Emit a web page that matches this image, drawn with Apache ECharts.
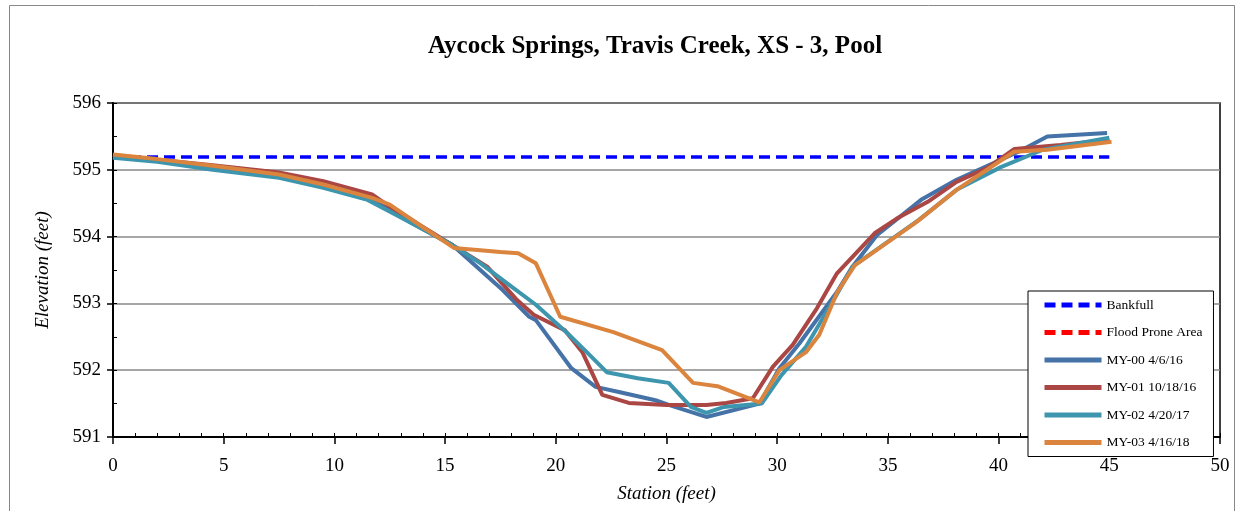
<!DOCTYPE html>
<html>
<head>
<meta charset="utf-8">
<script src="https://cdn.jsdelivr.net/npm/echarts@6/dist/echarts.min.js"></script>
<style>
html,body{margin:0;padding:0;background:#fff;}
#chart{width:1243px;height:511px;}
</style>
</head>
<body>
<div id="chart"></div>
<script>
// ---- data ----
const chartTitle = 'Aycock Springs, Travis Creek, XS - 3, Pool';
const xAxisName = 'Station (feet)';
const yAxisName = 'Elevation (feet)';
const seriesNames = ['Bankfull', 'Flood Prone Area', 'MY-00 4/6/16', 'MY-01 10/18/16', 'MY-02 4/20/17', 'MY-03 4/16/18'];

const bankfullStation = [0, 45];
const bankfullElev = [595.19, 595.19];

const floodStation = [];
const floodElev = [];

const my00Station = [0, 2, 4.5, 7.5, 9.5, 11.8, 13.5, 15.3, 17.6, 18.8, 19.1, 20.7, 21.8, 22.9, 24.5, 25.1, 26.8, 29.2, 30.1, 31.0, 32.7, 33.4, 34.5, 36.5, 38.1, 40.9, 42.2, 44.9];
const my00Elev = [595.19, 595.13, 595.03, 594.9, 594.74, 594.53, 594.2, 593.88, 593.2, 592.8, 592.75, 592.03, 591.75, 591.67, 591.55, 591.48, 591.3, 591.5, 592.03, 592.4, 593.17, 593.55, 594.02, 594.55, 594.85, 595.27, 595.5, 595.55];

const my01Station = [0, 2, 4.5, 7.5, 9.5, 11.7, 12.5, 15.3, 16.9, 18.25, 19.0, 20.4, 21.2, 22.1, 23.3, 25.0, 26.8, 27.7, 28.9, 29.8, 30.7, 31.8, 32.7, 34.4, 35.4, 36.8, 38.1, 39.5, 40.7, 42.8, 45];
const my01Elev = [595.22, 595.15, 595.07, 594.96, 594.83, 594.63, 594.45, 593.88, 593.55, 593.05, 592.83, 592.6, 592.27, 591.63, 591.51, 591.48, 591.48, 591.51, 591.58, 592.05, 592.38, 592.93, 593.45, 594.05, 594.27, 594.52, 594.82, 595.03, 595.31, 595.37, 595.45];

const my02Station = [0, 2, 4.5, 7.5, 9.5, 11.5, 13.5, 15.3, 16.6, 18.0, 19.1, 20.5, 21.4, 22.3, 23.7, 25.1, 26.1, 26.8, 27.6, 29.3, 30.2, 31.3, 32.6, 33.4, 36.4, 38.1, 40.1, 42.0, 45];
const my02Elev = [595.18, 595.12, 595.0, 594.88, 594.73, 594.55, 594.2, 593.88, 593.6, 593.25, 592.98, 592.56, 592.27, 591.97, 591.88, 591.81, 591.45, 591.36, 591.45, 591.5, 591.93, 592.35, 593.08, 593.55, 594.25, 594.7, 595.04, 595.3, 595.48];

const my03Station = [0, 2, 4.5, 7.5, 9.5, 11.7, 12.5, 14.0, 15.4, 17.5, 18.3, 19.1, 20.2, 22.6, 24.8, 26.2, 27.3, 29.2, 30.1, 31.3, 31.9, 32.7, 33.5, 36.3, 38.1, 40.7, 42.2, 45.1];
const my03Elev = [595.23, 595.16, 595.06, 594.93, 594.78, 594.58, 594.48, 594.14, 593.83, 593.77, 593.75, 593.6, 592.8, 592.57, 592.3, 591.81, 591.76, 591.52, 592.0, 592.27, 592.53, 593.16, 593.57, 594.22, 594.7, 595.27, 595.3, 595.42];

const xTicks = [0, 5, 10, 15, 20, 25, 30, 35, 40, 45, 50];
const yTicks = [591, 592, 593, 594, 595, 596];

// ---- build ----
function zip(xs, ys) { return xs.map((x, i) => [x, ys[i]]); }
const serif = 'Liberation Serif';
const colors = ['#0000FF', '#FF0000', '#4572A7', '#AA4643', '#3D96AE', '#DB843D'];
const stations = [bankfullStation, floodStation, my00Station, my01Station, my02Station, my03Station];
const elevs = [bankfullElev, floodElev, my00Elev, my01Elev, my02Elev, my03Elev];

const series = seriesNames.map((name, i) => ({
  name: name,
  type: 'line',
  xAxisIndex: 0,
  yAxisIndex: 0,
  data: zip(stations[i], elevs[i]),
  symbol: 'none',
  color: colors[i],
  lineStyle: {
    color: colors[i],
    width: i < 2 ? 3.5 : 4,
    type: i < 2 ? [11, 6] : 'solid'
  },
  emphasis: { disabled: true }
}));

const chart = echarts.init(document.getElementById('chart'), null, { renderer: 'canvas' });
chart.setOption({
  animation: false,
  backgroundColor: '#fff',
  color: colors,
  title: {
    text: chartTitle,
    left: 650,
    top: 29,
    textAlign: 'center',
    textStyle: { fontFamily: serif, fontWeight: 'bold', fontSize: 25, color: '#000' }
  },
  graphic: [{
    type: 'rect',
    shape: { x: 9.5, y: 5.5, width: 1225, height: 600 },
    style: { fill: 'none', stroke: '#888', lineWidth: 1 },
    silent: true, z: -10
  }],
  legend: {
    orient: 'vertical',
    left: 1028,
    top: 291,
    padding: [7, 11, 7, 14],
    itemWidth: 57,
    itemHeight: 14,
    itemGap: 13.5,
    backgroundColor: '#fff',
    borderColor: '#000',
    borderWidth: 1,
    itemStyle: { opacity: 0, borderWidth: 0 },
    lineStyle: { width: 5 },
    textStyle: { fontFamily: serif, fontSize: 13.5, color: '#000' },
    data: seriesNames,
    selectedMode: false
  },
  grid: {
    left: 113, right: 23, top: 103, bottom: 74,
    show: true, borderColor: '#000', borderWidth: 1.5, backgroundColor: 'transparent'
  },
  xAxis: [{
    type: 'value', min: xTicks[0], max: xTicks[xTicks.length - 1], interval: 5,
    position: 'bottom',
    name: xAxisName, nameLocation: 'middle', nameGap: 47,
    nameTextStyle: { fontFamily: serif, fontStyle: 'italic', fontSize: 19, color: '#000' },
    axisLine: { show: true, onZero: false, lineStyle: { color: '#000', width: 2 } },
    axisTick: { show: true, inside: false, length: 7, lineStyle: { color: '#000', width: 1.5 } },
    axisLabel: { margin: 20, fontFamily: serif, fontSize: 19, color: '#000' },
    splitLine: { show: false }
  }, {
    type: 'value', min: xTicks[0], max: xTicks[xTicks.length - 1], interval: 1,
    position: 'bottom', offset: 0,
    axisLine: { show: false },
    axisTick: { show: true, inside: true, length: 4, lineStyle: { color: '#000', width: 1 } },
    axisLabel: { show: false },
    splitLine: { show: false }
  }],
  yAxis: [{
    type: 'value', min: yTicks[0], max: yTicks[yTicks.length - 1], interval: 1,
    position: 'left',
    name: yAxisName, nameLocation: 'middle', nameGap: 61,
    nameTextStyle: { fontFamily: serif, fontStyle: 'italic', fontSize: 19, color: '#000' },
    axisLine: { show: true, onZero: false, lineStyle: { color: '#000', width: 2 } },
    axisTick: { show: true, inside: false, length: 6, lineStyle: { color: '#000', width: 1.5 } },
    axisLabel: { margin: 12, fontFamily: serif, fontSize: 19, color: '#000' },
    splitLine: { show: true, lineStyle: { color: '#888', width: 1.5 } }
  }, {
    type: 'value', min: yTicks[0], max: yTicks[yTicks.length - 1], interval: 0.5,
    position: 'left', offset: 0,
    axisLine: { show: false },
    axisTick: { show: true, inside: true, length: 4, lineStyle: { color: '#000', width: 1 } },
    axisLabel: { show: false },
    splitLine: { show: false }
  }],
  series: series
});
</script>
</body>
</html>
